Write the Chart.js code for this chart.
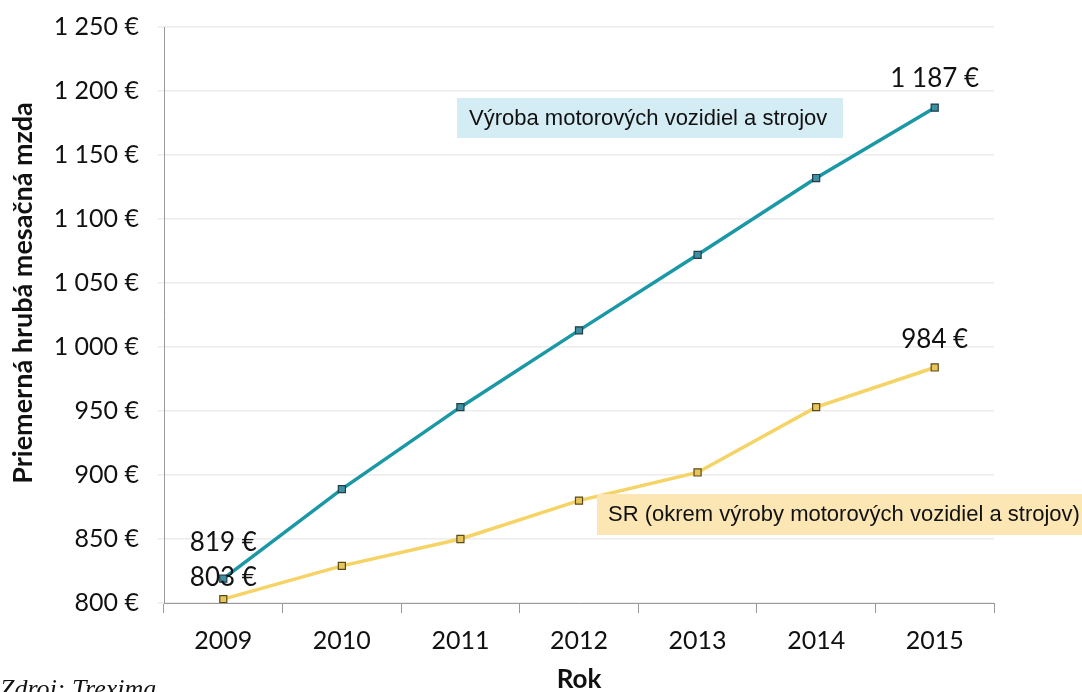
<!DOCTYPE html>
<html><head><meta charset="utf-8">
<script src="https://cdn.jsdelivr.net/npm/chart.js@4"></script>
<style>html,body{margin:0;padding:0;background:#fff}#wrap{width:1082px;height:692px;position:relative}</style>
</head><body><div id="wrap"><canvas id="c" width="1082" height="692"></canvas></div>
<script>
const years = ['2009','2010','2011','2012','2013','2014','2015'];
const vyrobaValues = [819, 889, 953, 1013, 1072, 1132, 1187];
const srValues = [803, 829, 850, 880, 902, 953, 984];
const vyrobaName = 'Výroba motorových vozidiel a strojov';
const srName = 'SR (okrem výroby motorových vozidiel a strojov)';
const yTitle = 'Priemerná hrubá mesačná mzda';
const xTitle = 'Rok';
const sourceText = 'Zdroj: Trexima';

const FONT = 'Lato, "Open Sans", sans-serif';
function fmt(v){ return String(v).replace(/\B(?=(\d{3})+(?!\d))/g,' ') + ' €'; }

const overlay = {
  id:'overlay',
  afterDatasetsDraw(chart){
    const ctx = chart.ctx, x = chart.scales.x, y = chart.scales.y;
    ctx.save();
    ctx.font = '26px ' + FONT; ctx.fillStyle = '#111'; ctx.textAlign='center'; ctx.textBaseline='middle';
    const lab = (i, v, dy) => ctx.fillText(fmt(v), x.getPixelForValue(i), y.getPixelForValue(v)+dy);
    lab(0, vyrobaValues[0], -36);
    lab(0, srValues[0], -22);
    lab(6, vyrobaValues[6], -29);
    lab(6, srValues[6], -28);
    // annotation boxes
    ctx.font = '22px "Liberation Sans", Arial, sans-serif';
    ctx.textAlign='left';
    ctx.fillStyle = '#d4ecf3'; ctx.fillRect(457, 98, 386, 40);
    ctx.fillStyle = '#111'; ctx.fillText(vyrobaName, 469, 119);
    ctx.fillStyle = '#fbe6b4'; ctx.fillRect(597, 494, 490, 41);
    ctx.fillStyle = '#111'; ctx.fillText(srName, 608, 515);
    // y axis title
    ctx.save();
    ctx.translate(23, 293); ctx.rotate(-Math.PI/2);
    ctx.font = 'bold 27px ' + FONT; ctx.textAlign='center'; ctx.textBaseline='middle';
    ctx.fillText(yTitle, 0, 0);
    ctx.restore();
    // x axis title
    ctx.font = 'bold 26px ' + FONT; ctx.textAlign='center'; ctx.textBaseline='middle';
    ctx.fillText(xTitle, 579, 680);
    // source
    ctx.font = 'italic 26px "Liberation Serif", "DejaVu Serif", serif';
    ctx.textBaseline='alphabetic'; ctx.textAlign='left';
    ctx.fillText(sourceText, 0, 697);
    ctx.restore();
  }
};

new Chart(document.getElementById('c'), {
  type:'line',
  data:{ labels: years, datasets:[
    {label: vyrobaName, data: vyrobaValues, borderColor:'#1b98a6', borderWidth:3.5,
     pointStyle:'rect', pointRadius:5, pointBackgroundColor:'#3f8fa3', pointBorderColor:'#1f3e4a', pointBorderWidth:1.2, tension:0},
    {label: srName, data: srValues, borderColor:'#f6d365', borderWidth:3.5,
     pointStyle:'rect', pointRadius:5, pointBackgroundColor:'#e8c45a', pointBorderColor:'#5a4a1a', pointBorderWidth:1.2, tension:0}
  ]},
  options:{
    responsive:false, animation:false, devicePixelRatio:1,
    layout:{padding:{top:27, right:88, left:0, bottom:0}},
    plugins:{legend:{display:false}, tooltip:{enabled:false}},
    scales:{
      x:{
        offset:true,
        grid:{offset:true, drawOnChartArea:false, tickLength:10, color:'#999'},
        border:{color:'#999', width:1},
        ticks:{font:{size:25, family:FONT}, color:'#111', padding:13},
        title:{display:false},
        afterFit(s){ s.height = 89; s.paddingLeft = 0; s.paddingRight = 0; }
      },
      y:{
        min:800, max:1250,
        grid:{color:'#ececec', tickLength:7, lineWidth:1.5},
        border:{color:'#999', width:1},
        ticks:{stepSize:50, font:{size:25, family:FONT}, color:'#111', padding:18, callback:v=>fmt(v)},
        title:{display:false},
        afterFit(s){ s.width = 164; s.paddingTop = 0; s.paddingBottom = 0; }
      }
    }
  },
  plugins:[overlay]
});
</script></body></html>
